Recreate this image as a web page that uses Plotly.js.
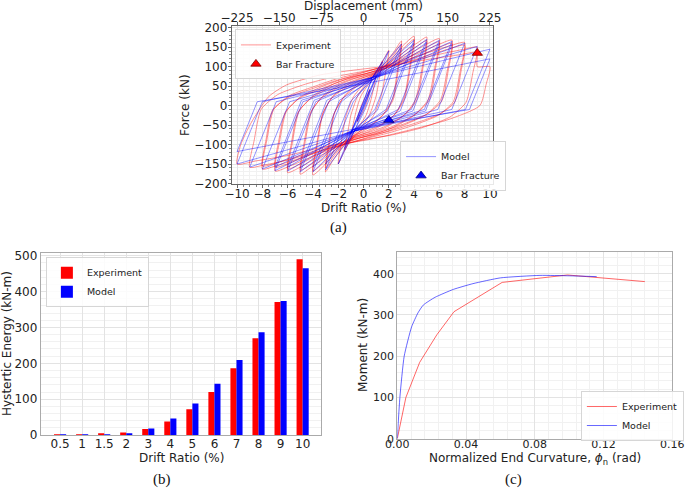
<!DOCTYPE html>
<html>
<head>
<meta charset="utf-8">
<script src="https://cdn.plot.ly/plotly-3.0.1.min.js"></script>
<style>
  html, body { margin: 0; padding: 0; background: #fff; }
  #chart { width: 685px; height: 490px; }
</style>
</head>
<body>
<div id="chart"></div>
<script>
// (a) hysteresis loops, one loop per drift level: [drift %, force kN]
const expLoops = [
  [[-0.5,-42],[-0.35,-18],[-0.15,2],[0.15,22],[0.35,32],[0.5,42],[0.35,18],[0.15,-2],[-0.15,-22],[-0.35,-32],[-0.5,-42]],
  [[-1,-80],[-0.8,-45],[-0.55,-10],[-0.2,25],[0.3,50],[0.7,65],[1,80],[0.8,45],[0.55,10],[0.2,-25],[-0.3,-50],[-0.7,-65],[-1,-80]],
  [[-1.5,-115],[-1.25,-70],[-1,-25],[-0.5,22],[0,48],[0.7,72],[1.2,95],[1.5,115],[1.25,70],[1,25],[0.5,-22],[0,-48],[-0.7,-72],[-1.2,-95],[-1.5,-115]],
  [[-2,-150],[-1.75,-92],[-1.4,-28],[-0.8,22],[0,55],[0.8,78],[1.5,112],[2,142],[1.75,85],[1.4,25],[0.8,-25],[0,-58],[-0.8,-80],[-1.5,-115],[-2,-150]],
  [[-3,-170],[-2.7,-100],[-2.3,-20],[-1.5,25],[-0.5,55],[0.5,74],[1.5,102],[2.4,138],[3,166],[2.7,95],[2.3,18],[1.5,-25],[0.5,-55],[-0.5,-74],[-1.5,-102],[-2.4,-140],[-3,-170]],
  [[-3,-160],[-2.75,-95],[-2.35,-22],[-1.6,20],[-0.5,50],[0.5,70],[1.5,98],[2.4,132],[3,158],[2.75,92],[2.35,15],[1.6,-22],[0.5,-52],[-0.5,-70],[-1.5,-98],[-2.4,-132],[-3,-160]],
  [[-4,-178],[-3.65,-100],[-3.2,-20],[-2.4,25],[-1.2,55],[0,72],[1,85],[2,112],[3,150],[4,178],[3.65,100],[3.2,20],[2.4,-25],[1.2,-55],[0,-72],[-1,-85],[-2,-112],[-3,-150],[-4,-178]],
  [[-4,-168],[-3.7,-98],[-3.25,-22],[-2.5,20],[-1.2,50],[0,68],[1,80],[2,106],[3,142],[4,170],[3.7,98],[3.25,18],[2.5,-22],[1.2,-52],[0,-68],[-1,-80],[-2,-106],[-3,-142],[-4,-168]],
  [[-5,-176],[-4.65,-100],[-4.1,-15],[-3.2,25],[-1.8,55],[-0.5,72],[0.8,85],[2,108],[3.3,140],[4.3,162],[5,176],[4.65,100],[4.1,15],[3.2,-25],[1.8,-55],[0.5,-72],[-0.8,-85],[-2,-108],[-3.3,-140],[-4.3,-162],[-5,-176]],
  [[-5,-166],[-4.7,-96],[-4.2,-18],[-3.3,20],[-1.8,50],[-0.5,68],[0.8,80],[2,102],[3.3,132],[4.3,154],[5,167],[4.7,96],[4.2,14],[3.3,-22],[1.8,-52],[0.5,-68],[-0.8,-80],[-2,-102],[-3.3,-132],[-4.3,-154],[-5,-166]],
  [[-6,-172],[-5.65,-100],[-5.1,-15],[-4,25],[-2.4,55],[-1,72],[0.5,85],[2,105],[3.5,130],[5,158],[6,172],[5.65,100],[5.1,15],[4,-25],[2.4,-55],[1,-72],[-0.5,-85],[-2,-105],[-3.5,-130],[-5,-158],[-6,-172]],
  [[-6,-163],[-5.7,-96],[-5.2,-18],[-4.1,20],[-2.4,50],[-1,68],[0.5,80],[2,99],[3.5,123],[5,150],[6,164],[5.7,96],[5.2,14],[4.1,-22],[2.4,-52],[1,-68],[-0.5,-80],[-2,-99],[-3.5,-123],[-5,-150],[-6,-163]],
  [[-7,-168],[-6.65,-95],[-6.1,-15],[-5,22],[-3.2,50],[-1.5,70],[0,85],[2,105],[4,130],[5.8,155],[7,168],[6.65,95],[6.1,15],[5,-22],[3.2,-50],[1.5,-70],[0,-85],[-2,-105],[-4,-130],[-5.8,-155],[-7,-168]],
  [[-7,-158],[-6.7,-90],[-6.2,-18],[-5.1,18],[-3.2,45],[-1.5,66],[0,80],[2,99],[4,123],[5.8,147],[7,160],[6.7,90],[6.2,12],[5.1,-20],[3.2,-47],[1.5,-66],[0,-80],[-2,-99],[-4,-123],[-5.8,-147],[-7,-158]],
  [[-8,-163],[-7.65,-90],[-7.1,-10],[-5.9,25],[-4,48],[-2,70],[0,86],[2.5,108],[5,135],[6.8,153],[8,162],[7.65,90],[7.1,10],[5.9,-25],[4,-50],[2,-70],[0,-86],[-2.5,-108],[-5,-135],[-6.8,-153],[-8,-163]],
  [[-8,-155],[-7.7,-86],[-7.2,-12],[-6,20],[-4,44],[-2,66],[0,81],[2.5,102],[5,128],[6.8,146],[8,155],[7.7,86],[7.2,8],[6,-22],[4,-46],[2,-66],[0,-81],[-2.5,-102],[-5,-128],[-6.8,-146],[-8,-155]],
  [[-9,-158],[-8.65,-90],[-8.1,-10],[-6.8,28],[-4.6,55],[-2.3,74],[0,88],[3,108],[6,132],[8,145],[9,150],[8.65,85],[8.1,8],[6.8,-30],[4.6,-57],[2.3,-75],[0,-88],[-3,-112],[-6,-140],[-7.8,-152],[-9,-158]],
  [[-10,-150],[-9.7,-100],[-8.9,-45],[-7.5,23],[-6.1,53],[-3.4,79],[-0.8,91],[2,102],[5,118],[7.5,130],[8.95,136],[9,100],[10,100],[9.7,55],[9.2,0],[6.6,-37],[2.6,-71],[0.3,-88],[-3,-105],[-6,-128],[-8.5,-142],[-10,-150]]
];
const modelLoops = [
  [[-0.5,-40],[0.5,40],[-0.5,-40]],
  [[-1,-72],[0,5],[1,75],[0,-5],[-1,-72]],
  [[-1.5,-110],[0,10],[0.7,72],[1.5,112],[-0.03,-10],[-0.7,-65],[-1.5,-110]],
  [[-2,-150],[0,10],[0.7,72],[2,140],[0.12,-10],[-0.7,-65],[-2,-150]],
  [[-3,-165],[-0.81,10],[0.7,72],[3,158],[0.9,-10],[-0.7,-65],[-3,-165]],
  [[-3,-150],[-1.0,12],[0.8,68],[3,148],[1.1,-12],[-0.8,-62],[-3,-150]],
  [[-4,-170],[-1.75,10],[0.7,72],[4,168],[1.78,-10],[-0.7,-65],[-4,-170]],
  [[-4,-158],[-1.9,14],[0.8,68],[4,160],[1.9,-14],[-0.8,-62],[-4,-158]],
  [[-5,-170],[-2.75,10],[0.7,72],[5,170],[2.75,-10],[-0.7,-65],[-5,-170]],
  [[-5,-160],[-2.9,14],[0.8,68],[5,162],[2.9,-14],[-0.8,-62],[-5,-160]],
  [[-6,-168],[-3.78,10],[0.7,72],[6,168],[3.78,-10],[-0.7,-65],[-6,-168]],
  [[-6,-158],[-3.9,14],[0.8,68],[6,160],[3.9,-14],[-0.8,-62],[-6,-158]],
  [[-7,-167],[-4.79,10],[0.7,72],[7,165],[4.81,-10],[-0.7,-65],[-7,-167]],
  [[-7,-158],[-4.9,14],[0.8,68],[7,157],[4.9,-14],[-0.8,-62],[-7,-158]],
  [[-8,-163],[-5.84,10],[0.7,72],[8,160],[5.88,-10],[-0.7,-65],[-8,-163]],
  [[-9,-158],[-6.9,10],[0.7,72],[9,152],[6.98,-10],[-0.7,-65],[-9,-158]],
  [[-10,-150],[-8,10],[0.7,72],[10,145],[8.06,-10],[-0.7,-65],[-10,-150]],
  [[-10,-118],[-8.4,10],[0.7,60],[10,120],[8.38,-10],[-0.7,-60],[-10,-118]]
];
const expFracture = [9, 135];
const modelFracture = [2, -37];
const dispTicks = [-225, -150, -75, 0, 75, 150, 225];

// (b) hysteretic energy per drift level
const driftLevels = ['0.5', '1', '1.5', '2', '3', '4', '5', '6', '7', '8', '9', '10'];
const energyExp = [0.5, 2, 4, 7, 17, 38, 72, 120, 186, 270, 371, 490];
const energyModel = [0.3, 1, 2, 4, 18, 46, 88, 143, 209, 287, 374, 465];

// (c) moment vs normalized end curvature
const curvExp = [0, 0.005, 0.013, 0.023, 0.033, 0.061, 0.099, 0.12, 0.144];
const momentExp = [0, 100, 185, 252, 308, 379, 397, 390, 381];
const curvModel = [0, 0.0015, 0.004, 0.0083, 0.012, 0.0151, 0.022, 0.0326, 0.044, 0.06, 0.083, 0.1, 0.116];
const momentModel = [0, 100, 200, 271, 305, 324, 343, 362, 376, 390, 396, 395, 393];

function flatten(loops) {
  const xs = [], ys = [];
  loops.forEach(function(loop) {
    loop.forEach(function(p) { xs.push(p[0]); ys.push(p[1]); });
    xs.push(null); ys.push(null);
  });
  return { x: xs, y: ys };
}

const expPath = flatten(expLoops);
const modelPath = flatten(modelLoops);
const font = 'DejaVu Sans, sans-serif';
const red = 'rgba(255,0,0,0.42)';
const blue = 'rgba(0,0,255,0.42)';

const traces = [
  { x: expPath.x, y: expPath.y, mode: 'lines', name: 'Experiment', legend: 'legend',
    line: { color: red, width: 1, shape: 'spline', smoothing: 0.6 }, xaxis: 'x', yaxis: 'y' },
  { x: modelPath.x, y: modelPath.y, mode: 'lines', name: 'Model', legend: 'legend2',
    line: { color: blue, width: 1 }, xaxis: 'x', yaxis: 'y' },
  { x: [expFracture[0]], y: [expFracture[1]], mode: 'markers', name: 'Bar Fracture', legend: 'legend',
    marker: { symbol: 'triangle-up', size: 9, color: '#ff0000', line: { color: '#700', width: 0.8 } }, xaxis: 'x', yaxis: 'y' },
  { x: [modelFracture[0]], y: [modelFracture[1]], mode: 'markers', name: 'Bar Fracture', legend: 'legend2',
    marker: { symbol: 'triangle-up', size: 9, color: '#0000ff', line: { color: '#007', width: 0.8 } }, xaxis: 'x', yaxis: 'y' },
  { x: [dispTicks[0], dispTicks[dispTicks.length - 1]], y: [0, 0], mode: 'markers', showlegend: false,
    marker: { opacity: 0 }, hoverinfo: 'skip', xaxis: 'x4', yaxis: 'y' },
  { x: driftLevels, y: energyExp, type: 'bar', name: 'Experiment', legend: 'legend3',
    marker: { color: '#ff0000' }, xaxis: 'x2', yaxis: 'y2' },
  { x: driftLevels, y: energyModel, type: 'bar', name: 'Model', legend: 'legend3',
    marker: { color: '#0000ff' }, xaxis: 'x2', yaxis: 'y2' },
  { x: curvExp, y: momentExp, mode: 'lines', name: 'Experiment', legend: 'legend4',
    line: { color: 'rgba(255,0,0,0.6)', width: 1 }, xaxis: 'x3', yaxis: 'y3' },
  { x: curvModel, y: momentModel, mode: 'lines', name: 'Model', legend: 'legend4',
    line: { color: 'rgba(0,0,255,0.6)', width: 1, shape: 'spline', smoothing: 0.5 }, xaxis: 'x3', yaxis: 'y3' }
];

const grid = '#e3e3e3';
const minorGrid = '#f1f1f1';
const tickFont = { family: font, size: 12, color: '#222' };
const titleFont = { family: font, size: 12, color: '#222' };
const legendBase = {
  bgcolor: 'rgba(255,255,255,0.85)', bordercolor: '#d6d6d6', borderwidth: 1,
  font: { family: font, size: 9.5, color: '#222' }, xanchor: 'left', yanchor: 'top',
  tracegroupgap: 0, itemwidth: 30
};
const serif = { family: 'Liberation Serif, Times New Roman, serif', size: 15, color: '#111' };

// axis titles and captions placed as paper annotations (px from top-left)
function label(text, px, py, opts) {
  return Object.assign({ text: text, x: px / 685, y: 1 - py / 490, xref: 'paper', yref: 'paper',
    xanchor: 'center', yanchor: 'middle', showarrow: false, font: titleFont }, opts || {});
}

const layout = {
  width: 685, height: 490,
  margin: { l: 0, r: 0, t: 0, b: 0 },
  paper_bgcolor: '#fff', plot_bgcolor: '#fff',
  font: { family: font },
  barmode: 'group', bargap: 0.45, bargroupgap: 0,
  xaxis: {
    domain: [0.3383, 0.7197], anchor: 'y', range: [-10.42, 10.24], dtick: 2, tick0: 0,
    showgrid: true, gridcolor: grid, zeroline: false, showline: true, linecolor: '#666', mirror: true,
    ticks: 'outside', ticklen: 3, tickcolor: '#666', tickfont: tickFont, ticklabelstandoff: -4,
    minor: { dtick: 0.5, showgrid: true, gridcolor: minorGrid, ticks: 'outside', ticklen: 2, tickcolor: '#888' }
  },
  xaxis4: {
    overlaying: 'x', side: 'top', anchor: 'y', range: [-10.42 * 22.5, 10.24 * 22.5],
    tickvals: dispTicks, showgrid: false, zeroline: false,
    ticks: 'outside', ticklen: 3, tickcolor: '#666', tickfont: tickFont, ticklabelstandoff: -5
  },
  yaxis: {
    domain: [0.6255, 0.9469], anchor: 'x', range: [-200, 204.4], dtick: 50,
    showgrid: true, gridcolor: grid, zeroline: false, showline: true, linecolor: '#666', mirror: true,
    ticks: 'outside', ticklen: 3, tickcolor: '#666', tickfont: tickFont, ticklabelstandoff: -2,
    minor: { dtick: 10, showgrid: true, gridcolor: minorGrid, ticks: 'outside', ticklen: 2, tickcolor: '#888' }
  },
  xaxis2: {
    domain: [0.0594, 0.4682], anchor: 'y2', type: 'category', range: [-0.88, 11.82],
    showgrid: true, gridcolor: grid, zeroline: false, showline: true, linecolor: '#aaa', mirror: true,
    ticks: '', tickfont: tickFont, ticklabelstandoff: -2
  },
  yaxis2: {
    domain: [0.1122, 0.4831], anchor: 'x2', range: [0, 507], dtick: 100,
    showgrid: true, gridcolor: grid, zeroline: false, showline: true, linecolor: '#aaa', mirror: true,
    ticks: '', tickfont: tickFont,
    minor: { dtick: 20, showgrid: true, gridcolor: minorGrid }
  },
  xaxis3: {
    domain: [0.58, 0.9815], anchor: 'y3', range: [0, 0.16], dtick: 0.04, tickformat: '.2f',
    showgrid: true, gridcolor: grid, zeroline: false, showline: true, linecolor: '#aaa', mirror: true,
    ticks: '', tickfont: { family: font, size: 11, color: '#222' }, ticklabelstandoff: -5,
    minor: { dtick: 0.008, showgrid: true, gridcolor: minorGrid }
  },
  yaxis3: {
    domain: [0.1047, 0.4851], anchor: 'x3', range: [0, 452], dtick: 100,
    showgrid: true, gridcolor: grid, zeroline: false, showline: true, linecolor: '#aaa', mirror: true,
    ticks: '', tickfont: { family: font, size: 11, color: '#222' },
    minor: { dtick: 20, showgrid: true, gridcolor: minorGrid }
  },
  legend: Object.assign({}, legendBase, { x: 0.343, y: 0.94 }),
  legend2: Object.assign({}, legendBase, { x: 0.584, y: 0.712 }),
  legend3: Object.assign({}, legendBase, { x: 0.067, y: 0.475 }),
  legend4: Object.assign({}, legendBase, { x: 0.848, y: 0.202 }),
  annotations: [
    label('Displacement (mm)', 363, 5.5),
    label('Drift Ratio (%)', 363, 208),
    label('Force (kN)', 185, 105, { textangle: -90 }),
    label('Drift Ratio (%)', 181, 458),
    label('Hystertic Energy (kN-m)', 7, 344, { textangle: -90 }),
    label('Normalized End Curvature, <i>ϕ</i><sub>n</sub> (rad)', 535, 458.5),
    label('Moment (kN-m)', 363, 345, { textangle: -90 }),
    label('(a)', 338, 227, { font: serif }),
    label('(b)', 162, 479, { font: serif }),
    label('(c)', 513, 479, { font: serif })
  ]
};

Plotly.newPlot('chart', traces, layout, { displayModeBar: false, responsive: false });
</script>
</body>
</html>
